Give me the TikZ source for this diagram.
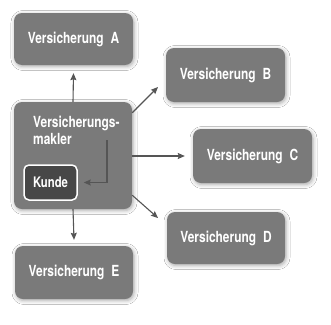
\documentclass[tikz,border=0pt]{standalone}
\usepackage{fontspec}
\setmainfont{TeX Gyre Heros}[FakeStretch=0.78]
\usetikzlibrary{arrows.meta,shadows.blur,calc}
\definecolor{boxgray}{HTML}{7A7A7A}
\definecolor{kundegray}{HTML}{474747}
\definecolor{arrowgray}{HTML}{555555}
\tikzset{
  vbox/.style={draw=none, fill=boxgray, rounded corners=8pt, text=white,
    font=\fontsize{15.3}{17}\selectfont\bfseries, inner sep=0pt,
    blur shadow={shadow xshift=1pt, shadow yshift=-1.5pt, shadow blur radius=4pt, shadow opacity=35}},
  kbox/.style={draw=white, line width=1.5pt, fill=kundegray, rounded corners=5pt, text=white,
    font=\fontsize{14.5}{17}\selectfont\bfseries, inner sep=0pt},
  txt/.style={text=white, font=\fontsize{15.3}{17}\selectfont\bfseries, inner sep=0pt, align=left},
  conn/.style={draw=arrowgray, line width=1.1pt, -{Stealth[length=7pt,width=6pt,inset=1pt]}}
}
\begin{document}
\begin{tikzpicture}[x=1pt,y=-1pt]
\useasboundingbox[fill=white] (0,0) rectangle (331,324);
\node[vbox, minimum width=119pt, minimum height=52pt] (a) at (73.5,39) {Versicherung\hspace{0.45em}A};
\node[vbox, minimum width=118pt, minimum height=107pt] (br) at (73,155.5) {};
\node[txt, anchor=north west] (brt) at (33,116) {Versicherungs-\\makler};
\node[kbox, minimum width=53pt, minimum height=35pt] (k) at (50.5,182.5) {Kunde};
\node[vbox, minimum width=118pt, minimum height=53pt] (e) at (74,272.5) {Versicherung\hspace{0.45em}E};
\node[vbox, minimum width=119pt, minimum height=54pt] (b) at (225.5,75) {Versicherung\hspace{0.45em}B};
\node[vbox, minimum width=119pt, minimum height=54pt] (c) at (252.5,156) {Versicherung\hspace{0.45em}C};
\node[vbox, minimum width=118pt, minimum height=52pt] (d) at (226,238) {Versicherung\hspace{0.45em}D};
% arrow anchors
\coordinate (bs) at ($(br.north east)+(0,11)$);
\coordinate (bt) at (158,87);
\coordinate (ds) at ($(br.south east)+(0,-14)$);
\coordinate (dt) at (158,218);
\coordinate (ks) at (107,140);
\draw[conn] (br.north) -- ($(a.south)+(0,8)$);
\draw[conn] (bs) -- (bt);
\draw[conn] (br.east |- c.west) -- ($(c.west)+(-8,0)$);
\draw[conn] (ds) -- (dt);
\draw[conn] (br.south) -- ($(e.north)+(0,-6)$);
\draw[conn] (ks) |- ($(k.east)+(6,0)$);
\end{tikzpicture}
\end{document}
